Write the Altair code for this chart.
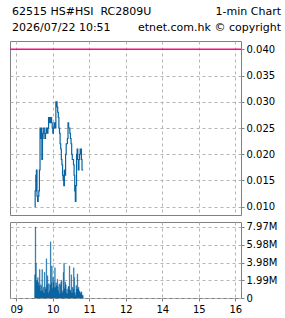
import altair as alt
import pandas as pd

# ---- data ----
start_hm = (9, 30)  # first minute of trading
prices = [0.010, 0.013, 0.016, 0.017, 0.012, 0.011, 0.012, 0.013, 0.017, 0.025,
          0.023, 0.025, 0.019, 0.023, 0.024, 0.025, 0.024, 0.023, 0.024, 0.025,
          0.024, 0.024, 0.025, 0.027, 0.027, 0.026, 0.026, 0.027, 0.026, 0.025,
          0.024, 0.025, 0.026, 0.026, 0.025, 0.030, 0.030, 0.029, 0.028, 0.027,
          0.025, 0.024, 0.022, 0.021, 0.019, 0.018, 0.016, 0.015, 0.014, 0.017,
          0.016, 0.020, 0.022, 0.022, 0.023, 0.026, 0.025, 0.025, 0.024, 0.023,
          0.022, 0.020, 0.019, 0.019, 0.018, 0.016, 0.013, 0.011, 0.014, 0.020,
          0.021, 0.019, 0.017, 0.019, 0.020, 0.021, 0.021, 0.019, 0.017, 0.017,
          0.017]
volumes_m = [2.6, 7.97, 3.9, 1.9, 2.0, 2.3, 1.7, 1.4, 3.2, 1.5,
             0.8, 1.4, 3.2, 0.8, 1.2, 0.6, 2.9, 1.2, 1.0, 4.4,
             1.5, 2.5, 0.6, 1.6, 0.8, 1.5, 6.3, 1.7, 3.6, 1.1,
             2.3, 1.8, 1.2, 3.4, 1.2, 1.7, 1.4, 2.1, 1.3, 0.8,
             1.6, 0.5, 1.5, 1.8, 2.0, 0.6, 0.8, 2.9, 3.9, 1.1,
             1.8, 1.5, 0.6, 1.0, 0.5, 1.3, 1.3, 3.6, 0.9, 0.8,
             2.6, 0.6, 1.2, 1.0, 3.4, 2.3, 0.6, 0.3, 1.4, 1.0,
             2.7, 1.0, 1.2, 0.8, 0.7, 0.6, 0.5, 0.7, 0.3, 0.3,
             0.25]
ref_price = [0.040]
price_ticks = [0.010, 0.015, 0.020, 0.025, 0.030, 0.035, 0.040]
vol_ticks = [0, 1.99, 3.98, 5.98, 7.97]
hour_ticks = [9, 10, 11, 12, 13, 14, 15]          # lunch break compressed
hour_labels = ["09", "10", "11", "12", "14", "15", "16"]
title_left = ["62515 HS#HSI \u00a0RC2809U", "2026/07/22 10:51"]
title_right = ["1-min Chart", "etnet.com.hk \u00a9 copyright"]

start = start_hm[0] * 60 + start_hm[1]
df = pd.DataFrame({
    "t": [(start + i) / 60 for i in range(len(prices))],
    "price": prices,
    "vol": volumes_m,
})

BLUE = "#0b64a2"
GRID = "#b4b4b4"
xscale = alt.Scale(domain=[8.827, 15.156], nice=False, zero=False)
label_arr = "[" + ",".join("'%s'" % s for s in hour_labels) + "]"

x_top = alt.X("t:Q", scale=xscale, axis=alt.Axis(values=hour_ticks, labels=False, ticks=False,
                                                 domain=False, grid=True, title=None))
y_top = alt.Y("price:Q", scale=alt.Scale(domain=[0.00842, 0.04158], nice=False, zero=False),
              axis=alt.Axis(orient="right", values=price_ticks, format=".3f", title=None,
                            domain=False, grid=True, labelOverlap=False))

line = alt.Chart(df).mark_line(interpolate="step-after", color=BLUE, strokeWidth=1.2).encode(x=x_top, y=y_top)
ref = alt.Chart(pd.DataFrame({"price": ref_price})).mark_rule(color="#ff0a84", strokeWidth=1.5).encode(
    y=y_top)


def title_text(txt, xpos, ypos, align):
    return alt.Chart(pd.DataFrame({"txt": [txt]})).mark_text(
        align=align, baseline="middle", fontSize=11, color="black"
    ).encode(text="txt:N", x=alt.value(xpos), y=alt.value(ypos))


texts = [
    title_text(title_left[0], 2, -29, "left"),
    title_text(title_left[1], 2, -13.5, "left"),
    title_text(title_right[0], 271, -29, "right"),
    title_text(title_right[1], 271, -13.5, "right"),
]

top = alt.layer(line, ref, *texts).properties(width=231, height=174)

bars = alt.Chart(df).mark_area(interpolate="step-after", color=BLUE, opacity=1,
                               stroke=BLUE, strokeWidth=0.4).encode(
    x=alt.X("t:Q", scale=xscale, axis=alt.Axis(values=hour_ticks, labelExpr=label_arr + "[datum.value - 9]",
                                               title=None, grid=True, domain=False)),
    y=alt.Y("vol:Q", scale=alt.Scale(domain=[0, 8.53], nice=False),
            axis=alt.Axis(orient="right", values=vol_ticks, title=None, domain=False, grid=True,
                          labelOverlap=False,
                          labelExpr="datum.value == 0 ? '0' : format(datum.value, '.2f') + 'M'")),
).properties(width=231, height=76)

chart = alt.vconcat(top, bars, spacing=5).properties(
    padding={"left": 8, "top": 5, "right": 0, "bottom": 0}
).configure(font="DejaVu Sans").configure_view(
    stroke="#808080", strokeWidth=1
).configure_axis(
    gridColor=GRID, gridDash=[3, 3], gridWidth=1, tickColor="#808080", tickSize=3,
    labelFontSize=10, labelColor="black", labelPadding=2, labelFont="DejaVu Sans"
).configure_axisX(labelPadding=3)

chart.save("out.html", embed_options={"renderer": "svg", "actions": False})
